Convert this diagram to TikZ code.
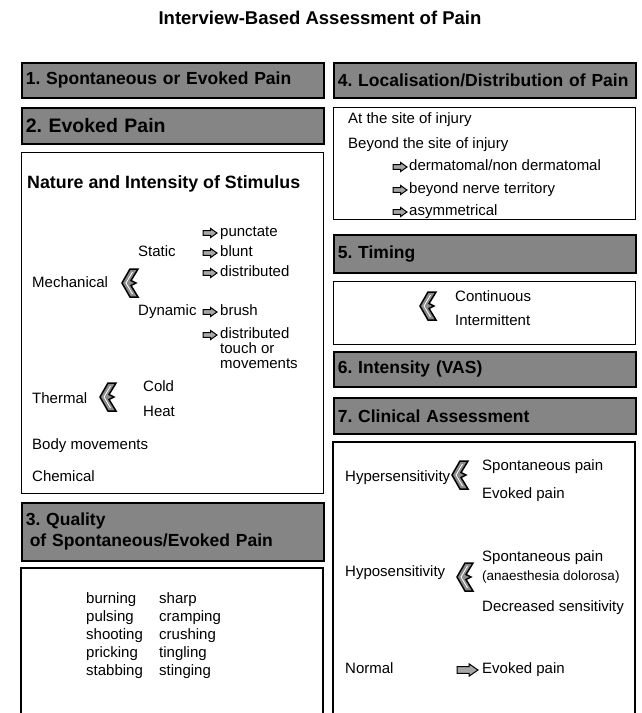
\documentclass[tikz,border=0pt]{standalone}
\usepackage{fontspec}
\setmainfont{Liberation Sans}
\begin{document}
\frenchspacing
\begin{tikzpicture}[x=1pt,y=-1pt,
  bar/.style={draw=black, line width=1.6pt, fill=black!48, anchor=north west,
    minimum width=302pt, text width=294pt, align=left, inner xsep=4pt, inner ysep=0pt,
    font=\bfseries\fontsize{17.5}{21}\selectfont},
  box/.style={draw=black, line width=1.1pt, anchor=north west, minimum width=302pt, inner sep=0pt},
  openbox/.style={draw=black, line width=1.1pt},
  txt/.style={anchor=west, inner sep=0pt, text height=0.72em, text depth=0pt,
    font=\fontsize{15}{18}\selectfont},
  small/.style={txt, font=\fontsize{13.5}{16}\selectfont},
  head/.style={txt, font=\bfseries\fontsize{17.8}{21}\selectfont},
  sarrow/.pic={\draw[fill=black!35, line width=1pt, line join=miter]
    (0,-2.3) -- (7.5,-2.3) -- (7.5,-4.6) -- (14,0) -- (7.5,4.6) -- (7.5,2.3) -- (0,2.3) -- cycle;},
  barrow/.pic={\draw[fill=black!35, line width=1pt, line join=miter]
    (0,-3.3) -- (12,-3.3) -- (12,-6.2) -- (21,0) -- (12,6.2) -- (12,3.3) -- (0,3.3) -- cycle;},
  chev/.pic={\draw[fill=black!45, line width=1.5pt, line join=miter]
    (0,0) -- (8,-14) -- (16,-14) -- (9,-2.5) -- (14,0) -- (9,2.5) -- (16,14) -- (8,14) -- cycle;
    \draw[white, line width=0.8pt] (4,0) -- (10.5,-11) (4,0) -- (10.5,11);}
]
\useasboundingbox[fill=white] (0,0) rectangle (641,713);

% title
\node[anchor=center, inner sep=0pt, text height=0.72em, text depth=0pt,
      font=\bfseries\fontsize{18.5}{22}\selectfont] (title) at (320,21) {Interview-Based Assessment of Pain};

% ---------- left column ----------
\node[bar, minimum height=35pt] (b1) at (21,62) {1. Spontaneous or Evoked Pain};
\node[bar, minimum height=36pt, font=\bfseries\fontsize{19.5}{22}\selectfont] (b2) at (21,107) {2. Evoked Pain};
\node[box, minimum height=341pt] (box2) at (21,152) {};

\node[head] (nature) at (27,185) {Nature and Intensity of Stimulus};

\node[txt] (static) at (138,253) {Static};
\node[txt] (mech) at (32,284) {Mechanical};
\pic at (122,283) {chev};
\pic at (203,233) {sarrow};
\node[txt] (punct) at (220,233) {punctate};
\pic at (203,253) {sarrow};
\node[txt] (blunt) at (220,253) {blunt};
\pic at (203,273) {sarrow};
\node[txt] (distr) at (220,273) {distributed};
\node[txt] (dyn) at (138,312) {Dynamic};
\pic at (203,312) {sarrow};
\node[txt] (brush) at (220,312) {brush};
\pic at (203,335) {sarrow};
\node[txt] (distrb) at (220,335) {distributed};
\node[txt] (touch) at (220,350) {touch or};
\node[txt] (movem) at (220,365) {movements};

\node[txt] (thermal) at (32,400) {Thermal};
\pic at (100,397) {chev};
\node[txt] (cold) at (143,388) {Cold};
\node[txt] (heat) at (143,413) {Heat};
\node[txt] (body) at (32,446) {Body movements};
\node[txt] (chem) at (32,478) {Chemical};

\node[bar, minimum height=58pt] (b3) at (21,502) {3. Quality\\\hspace*{4pt}of Spontaneous/Evoked Pain};
\coordinate (q1) at (21,713);
\coordinate (q2) at (21,568);
\coordinate (q3) at (323,568);
\coordinate (q4) at (323,713);
\draw[openbox] (q1) -- (q2) -- (q3) -- (q4);
\foreach \wa/\wb [count=\i] in {burning/sharp, pulsing/cramping, shooting/crushing, pricking/tingling, stabbing/stinging}{
  \node[txt] (qa\i) at (86,582+18*\i) {\wa};
  \node[txt] (qb\i) at (159,582+18*\i) {\wb};
}

% ---------- right column ----------
\node[bar, minimum height=35pt] (b4) at (333,62) {4. Localisation/Distribution of Pain};
\node[box, minimum height=112pt] (box4) at (333,107) {};
\node[txt] (site) at (348,120) {At the site of injury};
\node[txt] (beyond) at (348,145) {Beyond the site of injury};
\pic at (393,167) {sarrow};
\node[txt] (derm) at (409,167) {dermatomal/non dermatomal};
\pic at (393,190) {sarrow};
\node[txt] (nerve) at (409,190) {beyond nerve territory};
\pic at (393,212) {sarrow};
\node[txt] (asym) at (409,212) {asymmetrical};

\node[bar, minimum height=38pt] (b5) at (333,234) {5. Timing};
\node[box, minimum height=63pt] (box5) at (333,281) {};
\pic at (420,306) {chev};
\node[txt] (cont) at (455,298) {Continuous};
\node[txt] (inter) at (455,322) {Intermittent};

\node[bar, minimum height=35pt] (b6) at (333,351) {6. Intensity (VAS)};
\node[bar, minimum height=36pt] (b7) at (333,397) {7. Clinical Assessment};

\coordinate (r1) at (333,713);
\coordinate (r2) at (333,442);
\coordinate (r3) at (635,442);
\coordinate (r4) at (635,713);
\draw[openbox] (r1) -- (r2) -- (r3) -- (r4);

\node[txt] (hyper) at (345,478) {Hypersensitivity};
\pic at (452,475) {chev};
\node[txt] (sp1) at (482,467) {Spontaneous pain};
\node[txt] (ev1) at (482,495) {Evoked pain};

\node[txt] (hypo) at (345,573) {Hyposensitivity};
\pic at (457,577) {chev};
\node[txt] (sp2) at (482,558) {Spontaneous pain};
\node[small] (anaes) at (482,577) {(anaesthesia dolorosa)};
\node[txt] (decr) at (482,608) {Decreased sensitivity};

\node[txt] (normal) at (345,670) {Normal};
\pic at (457,670) {barrow};
\node[txt] (ev2) at (482,670) {Evoked pain};
\end{tikzpicture}
\end{document}
